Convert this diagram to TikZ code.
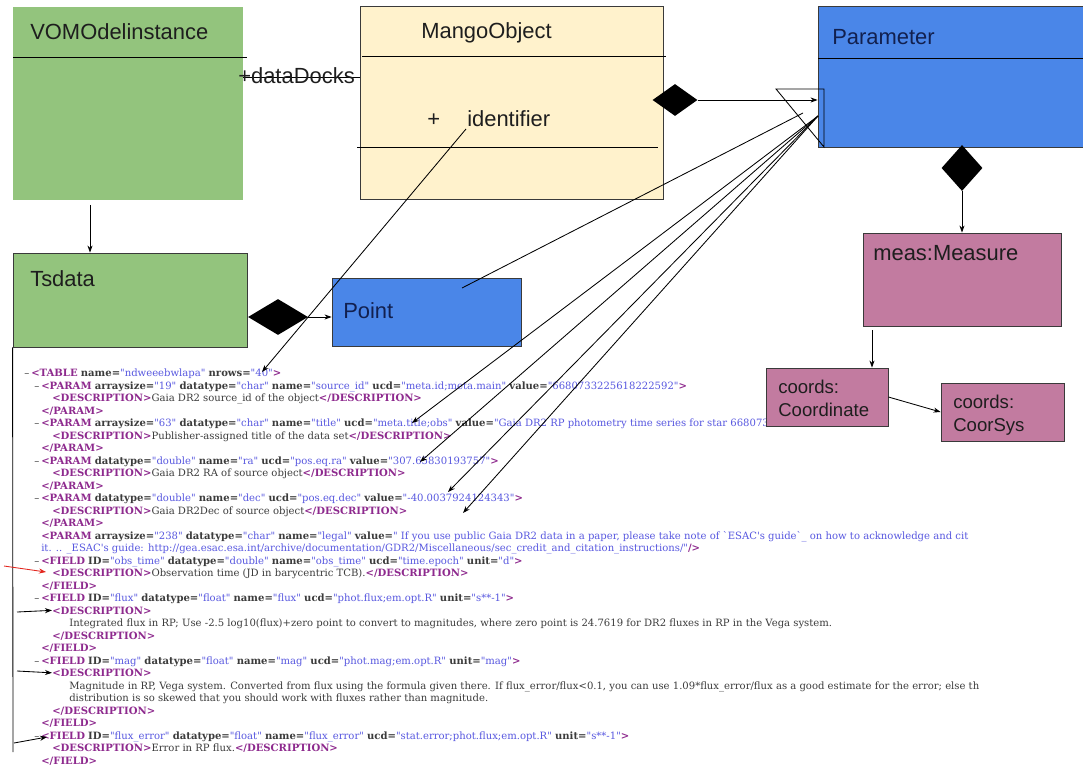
\documentclass[tikz,border=0pt]{standalone}
\usepackage{fontspec}
\setmainfont{Liberation Sans}
\newfontfamily\xmlfont{DejaVu Serif}
\usepackage{tikz}
\usetikzlibrary{arrows.meta, positioning, calc, fit, shapes.geometric}

\definecolor{vomogreen}{HTML}{93C47D}
\definecolor{mangobg}{HTML}{FFF2CC}
\definecolor{parambg}{HTML}{4A86E8}
\definecolor{measbg}{HTML}{C27BA0}
\definecolor{boxline}{HTML}{3A3A3A}
\definecolor{classtext}{HTML}{1E1E1E}
\definecolor{bluetext}{HTML}{12204F}
\definecolor{xmltag}{HTML}{8E2A8E}
\definecolor{xmlval}{HTML}{5858E0}
\definecolor{xmltext}{HTML}{3C3C3C}
\definecolor{hintred}{HTML}{E3261E}

% xml listing helpers
\newcommand{\xt}[1]{\textcolor{xmltag}{\bfseries #1}}
\newcommand{\xa}[2]{\textbf{#1=}\textcolor{xmlval}{"#2"}}
\newcommand{\xd}{\makebox[5pt][l]{–}}

\begin{document}
\begin{tikzpicture}[
  x=0.025cm, y=-0.025cm,
  box/.style={rectangle, inner sep=0pt, draw=boxline, line width=0.6pt},
  lbl/.style={anchor=base west, inner sep=0pt, text=classtext,
    font=\fontsize{15.6}{18}\selectfont},
  smlbl/.style={lbl, font=\fontsize{13.2}{16}\selectfont},
  dia/.style={diamond, fill=black, inner sep=0pt},
  xline/.style={anchor=base west, inner sep=0pt, text=xmltext,
    font=\xmlfont\fontsize{7.15}{8.5}\selectfont},
  arr/.style={-{Stealth[length=5pt,width=3.6pt]}, line width=0.6pt},
  lnk/.style={line width=0.6pt},
]
  \useasboundingbox (0,0) rectangle (1083,767);
  \fill[white] (0,0) rectangle (1083,767);
  \clip (0,0) rectangle (1083,767);

  % XML listing
  \node[xline] (xl1)  at (24,376.5) {\xd\xt{<TABLE} \xa{name}{ndweeebwlapa} \xa{nrows}{40}\xt{>}};
  \node[xline] (xl2)  at (34,389)   {\xd\xt{<PARAM} \xa{arraysize}{19} \xa{datatype}{char} \xa{name}{source\_id} \xa{ucd}{meta.id;meta.main} \xa{value}{6680733225618222592}\xt{>}};
  \node[xline] (xl3)  at (52,401.5) {\xt{<DESCRIPTION>}Gaia DR2 source\_id of the object\xt{</DESCRIPTION>}};
  \node[xline] (xl4)  at (41,414)   {\xt{</PARAM>}};
  \node[xline] (xl5)  at (34,426.5) {\xd\xt{<PARAM} \xa{arraysize}{63} \xa{datatype}{char} \xa{name}{title} \xa{ucd}{meta.title;obs} \xa{value}{Gaia DR2 RP photometry time series for star 6680733225618222592}\xt{>}};
  \node[xline] (xl6)  at (52,439)   {\xt{<DESCRIPTION>}Publisher-assigned title of the data set\xt{</DESCRIPTION>}};
  \node[xline] (xl7)  at (41,451.5) {\xt{</PARAM>}};
  \node[xline] (xl8)  at (34,464)   {\xd\xt{<PARAM} \xa{datatype}{double} \xa{name}{ra} \xa{ucd}{pos.eq.ra} \xa{value}{307.65830193757}\xt{>}};
  \node[xline] (xl9)  at (52,476.5) {\xt{<DESCRIPTION>}Gaia DR2 RA of source object\xt{</DESCRIPTION>}};
  \node[xline] (xl10) at (41,489)   {\xt{</PARAM>}};
  \node[xline] (xl11) at (34,501.5) {\xd\xt{<PARAM} \xa{datatype}{double} \xa{name}{dec} \xa{ucd}{pos.eq.dec} \xa{value}{-40.0037924124343}\xt{>}};
  \node[xline] (xl12) at (52,514)   {\xt{<DESCRIPTION>}Gaia DR2Dec of source object\xt{</DESCRIPTION>}};
  \node[xline] (xl13) at (41,526.5) {\xt{</PARAM>}};
  \node[xline] (xl14) at (41,539)   {\xt{<PARAM} \xa{arraysize}{238} \xa{datatype}{char} \xa{name}{legal} \textbf{value=}\textcolor{xmlval}{" If you use public Gaia DR2 data in a paper, please take note of \textasciigrave ESAC's guide\textasciigrave\_ on how to acknowledge and cit}};
  \node[xline] (xl15) at (41,551.5) {\textcolor{xmlval}{it. .. \_ESAC's guide: http://gea.esac.esa.int/archive/documentation/GDR2/Miscellaneous/sec\_credit\_and\_citation\_instructions/"}\xt{/>}};
  \node[xline] (xl16) at (34,564)   {\xd\xt{<FIELD} \xa{ID}{obs\_time} \xa{datatype}{double} \xa{name}{obs\_time} \xa{ucd}{time.epoch} \xa{unit}{d}\xt{>}};
  \node[xline] (xl17) at (52,576.5) {\xt{<DESCRIPTION>}Observation time (JD in barycentric TCB).\xt{</DESCRIPTION>}};
  \node[xline] (xl18) at (41,589)   {\xt{</FIELD>}};
  \node[xline] (xl19) at (34,601.5) {\xd\xt{<FIELD} \xa{ID}{flux} \xa{datatype}{float} \xa{name}{flux} \xa{ucd}{phot.flux;em.opt.R} \xa{unit}{s**-1}\xt{>}};
  \node[xline] (xl20) at (52,614)   {\xt{<DESCRIPTION>}};
  \node[xline] (xl21) at (69,626.5) {Integrated flux in RP; Use -2.5 log10(flux)+zero point to convert to magnitudes, where zero point is 24.7619 for DR2 fluxes in RP in the Vega system.};
  \node[xline] (xl22) at (52,639)   {\xt{</DESCRIPTION>}};
  \node[xline] (xl23) at (41,651.5) {\xt{</FIELD>}};
  \node[xline] (xl24) at (34,664)   {\xd\xt{<FIELD} \xa{ID}{mag} \xa{datatype}{float} \xa{name}{mag} \xa{ucd}{phot.mag;em.opt.R} \xa{unit}{mag}\xt{>}};
  \node[xline] (xl25) at (52,676.5) {\xt{<DESCRIPTION>}};
  \node[xline] (xl26) at (69,689)   {Magnitude in RP, Vega system. Converted from flux using the formula given there. If flux\_error/flux<0.1, you can use 1.09*flux\_error/flux as a good estimate for the error; else th};
  \node[xline] (xl27) at (69,701.5) {distribution is so skewed that you should work with fluxes rather than magnitude.};
  \node[xline] (xl28) at (52,714)   {\xt{</DESCRIPTION>}};
  \node[xline] (xl29) at (41,726.5) {\xt{</FIELD>}};
  \node[xline] (xl30) at (34,739)   {\xd\xt{<FIELD} \xa{ID}{flux\_error} \xa{datatype}{float} \xa{name}{flux\_error} \xa{ucd}{stat.error;phot.flux;em.opt.R} \xa{unit}{s**-1}\xt{>}};
  \node[xline] (xl31) at (52,751.5) {\xt{<DESCRIPTION>}Error in RP flux.\xt{</DESCRIPTION>}};
  \node[xline] (xl32) at (41,764)   {\xt{</FIELD>}};

  % Classes
  \node[box, draw=none, fill=vomogreen, fit={(13,7) (243,200)}] (vomo) {};
  \node[box, fill=mangobg, fit={(360,6) (663,199)}]   (mango)   {};
  \node[box, fill=parambg, fit={(818,6) (1095,147)}]  (param)   {};
  \node[box, fill=vomogreen, fit={(13,253) (247,347)}] (tsdata) {};
  \node[box, fill=parambg, fit={(332,278) (521,346)}] (point)   {};
  \node[box, fill=measbg, fit={(863,233) (1061,326)}] (meas)    {};
  \node[box, fill=measbg, fit={(766,368) (888,426)}]  (coord)   {};
  \node[box, fill=measbg, fit={(941,383) (1064,441)}] (coorsys) {};

  % Compartment lines
  \draw[lnk] (13,57) -- (247,57);
  \draw[lnk] (362,56) -- (666,56);
  \draw[lnk] (357,147) -- (658,147);
  \draw[lnk] (818,58) -- (1083,58);

  % Class names
  \node[lbl] (vomot)   at (30,40)   {VOMOdelinstance};
  \node[lbl] (mangot)  at (421,39)  {MangoObject};
  \node[lbl] (plus)    at (427,127) {+};
  \node[lbl] (ident)   at (467,127) {identifier};
  \node[lbl, text=bluetext] (paramt) at (832,45) {Parameter};
  \node[lbl] (tsdatat) at (30,286)  {Tsdata};
  \node[lbl, text=bluetext] (pointt) at (343,318) {Point};
  \node[lbl] (meast)   at (873,260) {meas:Measure};
  \node[smlbl] (coordt)   at (778,393) {coords:};
  \node[smlbl] (coordu)   at (778,416) {Coordinate};
  \node[smlbl] (coorsyst) at (953,408) {coords:};
  \node[smlbl] (coorsysu) at (953,431) {CoorSys};

  % Association VOMOdelinstance -- MangoObject
  \coordinate (dd) at (0,77);
  \draw[lnk] (mango.west |- dd) -- (vomo.east |- dd);
  \node[lbl] (docks) at (238,84) {+dataDocks};

  % Compositions
  \node[dia, minimum width=1.125cm, minimum height=0.8cm] (dia1) at (675,100) {};
  \draw[arr] (dia1.east) -- (dia1.east -| param.west);
  \node[dia, minimum width=1.5cm, minimum height=0.9cm] (dia2) at (278,317) {};
  \draw[arr] (dia2.east) -- (dia2.east -| point.west);
  \node[dia, minimum width=1.025cm, minimum height=1.15cm] (dia3) at (962,168) {};
  \draw[arr] (dia3.south) -- (dia3.south |- meas.north);

  % Plain arrows
  \coordinate (vdown) at (90,205);
  \draw[arr] (vdown) -- (vdown |- tsdata.north);
  \coordinate (mdown) at (872,330);
  \draw[arr] (mdown) -- (mdown |- coord.north);
  \draw[arr] (coord.east) -- (coorsys.west);

  % Generalisation head on Parameter
  \coordinate (g1) at (776,89);
  \coordinate (g2) at (824,89);
  \coordinate (g3) at (824,147);
  \draw[lnk] (g1) -- (g2) -- (g3) -- cycle;

  % Mapping lines into the listing
  \coordinate (gen)   at (818,116);
  \coordinate (gend)  at (803,113);
  \coordinate (ptsrc) at (462,288);
  \draw[lnk] (ptsrc) -- (gend);
  \coordinate (idsrc) at (466,129);
  \coordinate (nrw)   at (262,372);
  \draw[arr] (idsrc) -- (nrw);
  \coordinate (m1) at (412,423);
  \coordinate (m2) at (420,462);
  \coordinate (m3) at (448,492);
  \coordinate (m4) at (463,513);
  \draw[arr] (gen) -- (m1);
  \draw[arr] (gen) -- (m2);
  \draw[arr] (gen) -- (m3);
  \draw[arr] (gen) -- (m4);

  % Left margin markers
  \coordinate (lbot) at (13,752);
  \draw[lnk] (tsdata.south west) -- (lbot);
  \coordinate (r0) at (4,566);
  \coordinate (r1) at (46,572);
  \draw[arr, hintred] (r0) -- (r1);
  \coordinate (b0) at (17,612);
  \draw[arr] (b0) -- (xl20.west);
  \coordinate (c0) at (17,671);
  \draw[arr] (c0) -- (xl25.west);
  \coordinate (d0) at (14,743);
  \coordinate (d1) at (47,737);
  \draw[arr] (d0) -- (d1);
\end{tikzpicture}
\end{document}
